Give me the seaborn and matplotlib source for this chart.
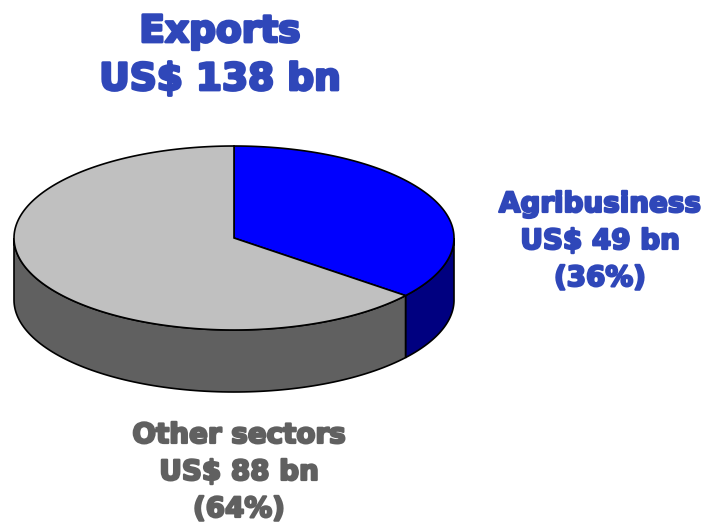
import numpy as np
import seaborn as sns
import matplotlib.pyplot as plt
import matplotlib.patheffects as pe

# Data
sectors = ['Agribusiness', 'Other sectors']
values_bn = [49, 88]
shares = [36, 64]
total_bn = 138

title_lines = ['Exports', 'US$ {} bn'.format(total_bn)]

top_colors = ['#0000FF', '#C0C0C0']
side_colors = ['#000080', '#606060']
text_colors = ['#2F47B9', '#606060']

sns.set_style("white")
plt.rcParams['font.family'] = ['DejaVu Sans']

fig = plt.figure(figsize=(7.07, 5.22), dpi=100)
ax = fig.add_axes([0, 0, 1, 1])
ax.set_xlim(0, 707)
ax.set_ylim(522, 0)
ax.axis('off')

# pie geometry (pixels)
cx, cy = 234, 238
rx, ry = 220, 92
depth = 62


def pt(theta_deg, dy=0):
    t = np.radians(theta_deg)
    return cx + rx * np.cos(t), cy - ry * np.sin(t) + dy


# wedge angles: start at top, go clockwise
fracs = np.array(values_bn) / float(sum(values_bn))
starts = 90 - 360 * np.concatenate([[0], np.cumsum(fracs)[:-1]])
ends = starts - 360 * fracs

# side walls (only front half visible: theta in [180, 360])
for i in range(len(values_bn)):
    a0, a1 = ends[i], starts[i]
    lo, hi = a0 % 360, (a0 % 360) + (a1 - a0)
    segs = []
    for base in (0, 360):
        s = max(lo, 180 + base)
        e = min(hi, 360 + base)
        if e > s:
            segs.append((s, e))
    for s, e in segs:
        th = np.linspace(s, e, 100)
        xt, yt = pt(th)
        xb, yb = pt(th[::-1], depth)
        ax.fill(np.concatenate([xt, xb]), np.concatenate([yt, yb]),
                facecolor=side_colors[i], edgecolor='black', linewidth=1.2, zorder=1)

# top wedges
for i in range(len(values_bn)):
    th = np.linspace(ends[i], starts[i], 200)
    xs, ys = pt(th)
    ax.fill(np.concatenate([[cx], xs]), np.concatenate([[cy], ys]),
            facecolor=top_colors[i], edgecolor='black', linewidth=1.2, zorder=2)


def heavy(c, w):
    return [pe.withStroke(linewidth=w, foreground=c)]


# title
for k, line in enumerate(title_lines):
    ax.text(220, 42 + 48 * k, line, ha='center', va='baseline',
            fontsize=27, fontweight='bold', color=text_colors[0],
            path_effects=heavy(text_colors[0], 2.0))

# slice labels
label_pos = [(600, 212), (239, 443)]
for i, name in enumerate(sectors):
    lines = [name, 'US$ {} bn'.format(values_bn[i]), '({}%)'.format(shares[i])]
    x0, y0 = label_pos[i]
    for k, line in enumerate(lines):
        ax.text(x0, y0 + 37 * k, line, ha='center', va='baseline',
                fontsize=20, fontweight='bold', color=text_colors[i],
                path_effects=heavy(text_colors[i], 1.6))

fig.savefig('out.png', dpi=100)
